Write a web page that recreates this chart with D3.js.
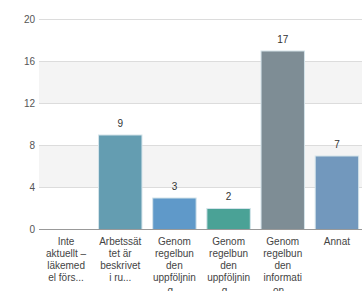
<!DOCTYPE html>
<html>
<head>
<meta charset="utf-8">
<script src="https://cdn.jsdelivr.net/npm/d3@7"></script>
<style>
  body { margin: 0; background: #fff; }
  svg { display: block; font-family: "Liberation Sans", Arial, sans-serif; }
</style>
</head>
<body>
<svg id="chart" width="362" height="291"></svg>
<script>
// kategorier (avkortade som i originalet) och antal svar
const categories = ["c1", "c2", "c3", "c4", "c5", "c6"];
const labelLines = [
  ["Inte", "aktuellt –", "läkemed", "el förs..."],
  ["Arbetssät", "tet är", "beskrivet", "i ru..."],
  ["Genom", "regelbun", "den", "uppföljnin", "g..."],
  ["Genom", "regelbun", "den", "uppföljnin", "g..."],
  ["Genom", "regelbun", "den", "informati", "on..."],
  ["Annat"]
];
const values = [0, 9, 3, 2, 17, 7];
const barColors = ["#649db1", "#649db1", "#5f99c9", "#4aa296", "#7e8d95", "#7298bd"];
const yTicks = [0, 4, 8, 12, 16, 20];

const svg = d3.select("#chart");
const mLeft = 39, mRight = 364, mTop = 19, mBottom = 229;

const data = categories.map(function(c, i) {
  return {cat: c, value: values[i], color: barColors[i], lines: labelLines[i]};
});

const x = d3.scaleBand()
    .domain(categories)
    .range([mLeft, mRight])
    .paddingInner(0.18)
    .paddingOuter(0.09);

const y = d3.scaleLinear()
    .domain([0, 20])
    .range([mBottom, mTop]);

// randiga band mellan rutnätslinjerna
const bands = svg.append("g");
for (let i = 0; i < yTicks.length - 1; i++) {
  if (i % 2 === 1) {
    bands.append("rect")
      .attr("x", mLeft)
      .attr("y", y(yTicks[i + 1]))
      .attr("width", 362 - mLeft)
      .attr("height", y(yTicks[i]) - y(yTicks[i + 1]))
      .attr("fill", "#f4f4f4");
  }
}

// rutnät
svg.append("g").selectAll("line")
  .data(yTicks.filter(d => d > 0))
  .enter().append("line")
    .attr("x1", mLeft).attr("x2", 362)
    .attr("y1", d => Math.round(y(d)) + 0.5)
    .attr("y2", d => Math.round(y(d)) + 0.5)
    .attr("stroke", "#dcdcdc");

// y-axel etiketter
svg.append("g").selectAll("text")
  .data(yTicks)
  .enter().append("text")
    .attr("x", 35)
    .attr("y", d => y(d) + 3.5)
    .attr("text-anchor", "end")
    .attr("font-size", "10px")
    .attr("fill", "#555")
    .text(d => d);

const shown = data.filter(d => d.value > 0);

// staplar
svg.append("g").selectAll("rect")
  .data(shown)
  .enter().append("rect")
    .attr("x", d => x(d.cat) + 0.5)
    .attr("y", d => y(d.value) + 0.5)
    .attr("width", x.bandwidth() - 1)
    .attr("height", d => y(0) - y(d.value))
    .attr("fill", d => d.color)
    .attr("stroke", "#d3e3ea")
    .attr("stroke-width", 1);

// värden ovanför staplarna
svg.append("g").selectAll("text")
  .data(shown)
  .enter().append("text")
    .attr("x", d => x(d.cat) + x.bandwidth() / 2)
    .attr("y", d => y(d.value) - 8)
    .attr("text-anchor", "middle")
    .attr("font-size", "10px")
    .attr("fill", "#333")
    .text(d => d.value);

// baslinje
svg.append("line")
  .attr("x1", mLeft).attr("x2", 362)
  .attr("y1", y(0) + 0.5).attr("y2", y(0) + 0.5)
  .attr("stroke", "#999");

// x-axel etiketter, radbrutna
svg.append("g").selectAll("text")
  .data(data)
  .enter().append("text")
    .attr("text-anchor", "middle")
    .attr("font-size", "10px")
    .attr("fill", "#444")
    .each(function(d) {
      const t = d3.select(this);
      d.lines.forEach(function(line, k) {
        t.append("tspan")
          .attr("x", x(d.cat) + x.bandwidth() / 2)
          .attr("y", 244.5 + k * 12.3)
          .text(line);
      });
    });
</script>
</body>
</html>
